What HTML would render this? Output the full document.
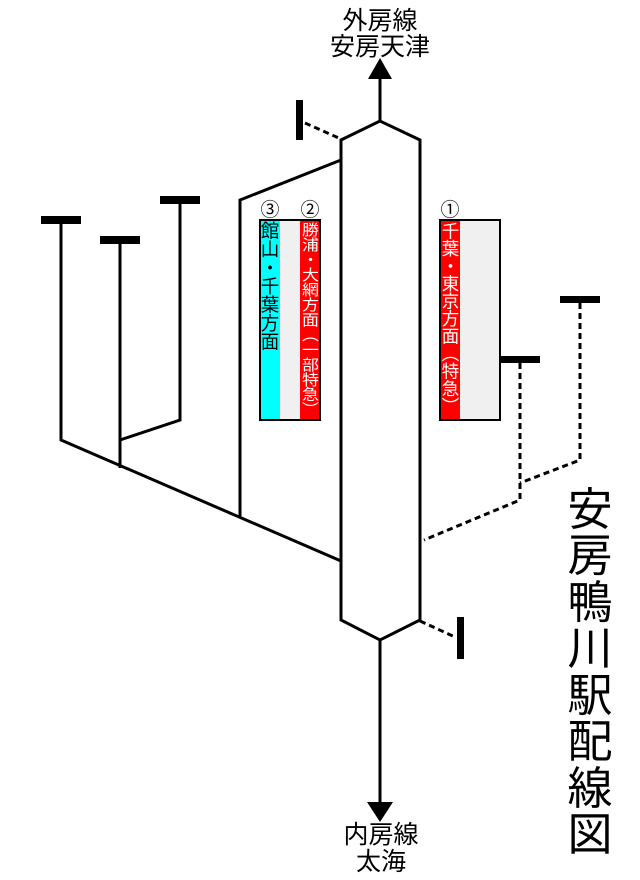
<!DOCTYPE html>
<html><head><meta charset="utf-8"><style>
body{margin:0;background:#fff;position:relative;width:640px;height:880px;overflow:hidden;}
svg{display:block;position:absolute;left:0;top:0;}
text{font-family:"Liberation Sans","Noto Sans CJK JP",sans-serif;}
.v{position:absolute;width:20px;writing-mode:vertical-rl;text-orientation:upright;font-family:"Noto Sans CJK JP",sans-serif;line-height:20px;text-align:start;white-space:nowrap;transform-origin:top left;}
</style></head><body>
<svg width="640" height="880" viewBox="0 0 640 880" xmlns="http://www.w3.org/2000/svg">
<g stroke="#000" stroke-width="3" fill="none">
<polygon points="380,121 341,140 341,620 380,640 420,620 420,140" fill="#fff"/>
<line x1="380" y1="121" x2="380" y2="75"/>
<line x1="380" y1="640" x2="380" y2="805"/>
<polyline points="61,220 61,440 341,561"/>
<polyline points="120,240 120,468"/>
<polyline points="180,200 180,420 120,440"/>
<polyline points="240,517 240,200 341,160"/>
</g>
<polygon points="380,58 368,79 392,79" fill="#000"/>
<polygon points="380,822 367,802 393,802" fill="#000"/>
<g fill="#000">
<rect x="41" y="216" width="40" height="8"/>
<rect x="100" y="236" width="40" height="8"/>
<rect x="160" y="196" width="40" height="8"/>
<rect x="500" y="356" width="40" height="7"/>
<rect x="560" y="296" width="40" height="7"/>
<rect x="296" y="100" width="7" height="40"/>
<rect x="457" y="617" width="7" height="42"/>
</g>
<g stroke="#000" stroke-width="3" fill="none" stroke-dasharray="6,4">
<polyline points="520,363 520,500 424,540"/>
<polyline points="580,303 580,460 520,483"/>
<line x1="305" y1="123" x2="341" y2="139"/>
<line x1="420" y1="621" x2="455" y2="637"/>
</g>
<rect x="260" y="220" width="60" height="200" fill="#f0f0f0" stroke="#000" stroke-width="2"/>
<rect x="261" y="221" width="19" height="198" fill="#00ffff"/>
<rect x="300" y="221" width="19" height="198" fill="#ff0000"/>
<rect x="440" y="220" width="60" height="200" fill="#f0f0f0" stroke="#000" stroke-width="2"/>
<rect x="441" y="221" width="19" height="198" fill="#ff0000"/>
<g font-size="19" text-anchor="middle">
<text x="270" y="216">③</text>
<text x="310" y="216">②</text>
<text x="450" y="216">①</text>
</g>
<g font-size="25" text-anchor="middle">
<text x="380" y="29">外房線</text>
<text x="380" y="55">安房天津</text>
<text x="381" y="843">内房線</text>
<text x="381" y="870">太海</text>
</g>
<g font-size="45" text-anchor="middle">
<text x="590" y="525">安</text>
<text x="590" y="571">房</text>
<text x="590" y="618">鴨</text>
<text x="590" y="664">川</text>
<text x="590" y="711">駅</text>
<text x="590" y="757">配</text>
<text x="590" y="804">線</text>
<text x="590" y="850">図</text>
</g>
</svg>
<div class="v" style="left:260px;top:221px;font-size:18.5px;color:#000;">館山・千葉方面</div>
<div class="v" style="left:300px;top:222px;font-size:17px;color:#fff;transform:scale(1,0.88);">勝浦・大網方面（一部特急）</div>
<div class="v" style="left:440px;top:222px;font-size:17.5px;color:#fff;">千葉・東京方面（特急）</div>
</body></html>
